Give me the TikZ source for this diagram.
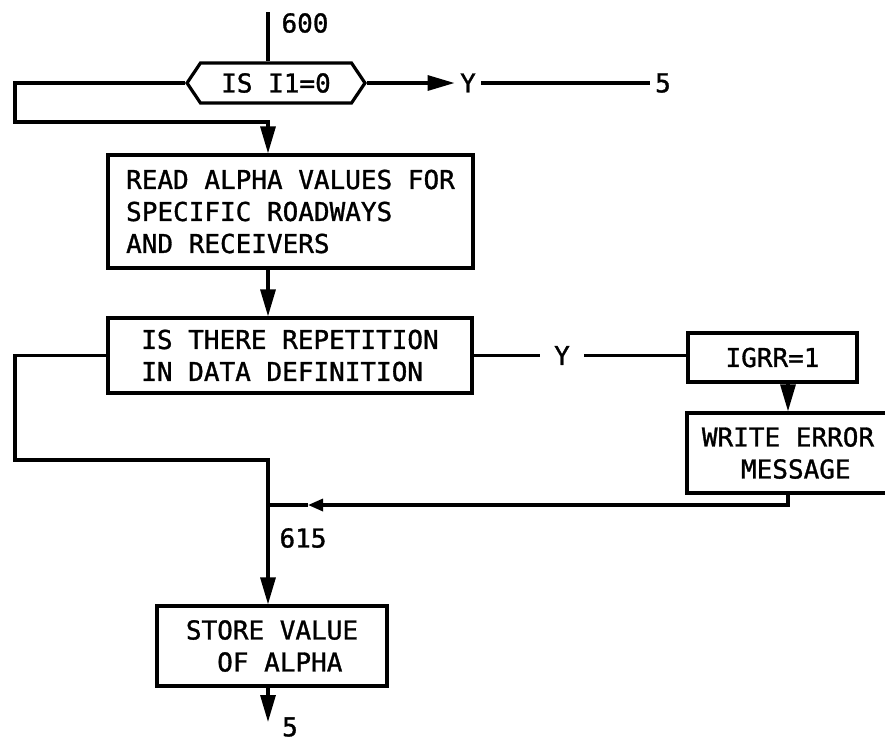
\documentclass[tikz,border=0pt]{standalone}
\usepackage{fontspec}
\setmonofont{DejaVu Sans Mono}[FakeBold=1.2]
\usetikzlibrary{arrows.meta,shapes.symbols}

\begin{document}
\begin{tikzpicture}[x=1pt, y=-1pt, line width=3.2pt,
  font=\ttfamily\fontsize{26}{32}\selectfont,
  stepbox/.style={draw, inner sep=0pt, align=left},
  decision/.style={draw, signal, signal to=west and east, signal pointer angle=112, inner sep=0pt, minimum width=178pt, minimum height=40pt},
  tag/.style={inner sep=4pt},
  flow/.style={-{Triangle[length=27pt,width=15pt]}},
  backflow/.style={-{Triangle[length=15pt,width=12pt]}}]
\clip (0,0) rectangle (885,742);
% main column
\coordinate (spine) at (268,0);
\coordinate (start) at (268,12);
\node[decision] (isone) at (276,83) {IS I1=0};
\node[tag] (yes1) at (468,83) {Y};
\node[tag] (goto5) at (663,83) {5};
\node[stepbox, minimum width=365pt, minimum height=113pt] (readalpha) at (290.5,211.5) {READ ALPHA VALUES FOR\\SPECIFIC ROADWAYS\\AND RECEIVERS};
\node[stepbox, minimum width=364pt, minimum height=75pt] (repeat) at (290,355.5) {IS THERE REPETITION\\IN DATA DEFINITION};
\node[tag, inner xsep=13pt] (yes2) at (562,355.5) {Y};
\node[stepbox, minimum width=169pt, minimum height=49pt] (igrr) at (772.5,357.5) {IGRR=1};
\node[stepbox, align=center, minimum width=202pt, minimum height=80pt] (writeerr) at (788,453) {WRITE ERROR\\\hphantom{M}MESSAGE};
\node[stepbox, align=center, minimum width=230pt, minimum height=80pt] (store) at (272,646) {STORE VALUE\\\hphantom{O}OF ALPHA};
\node[tag] (exit5) at (290,727) {5};
\node[tag] at (305,23) {600};
\node[tag] at (303,538) {615};
\coordinate (lefta) at (15,122);
\coordinate (leftb) at (15,460);
\coordinate (merge) at (268,505);
\coordinate (backtip) at (308,505);
\coordinate (stop) at (268,722);
% connectors
\draw (start) -- (spine |- isone.north);
\draw[flow] (isone.east) -- (yes1.west);
\draw (yes1.east) -- (goto5.west);
\draw[flow] (isone.west) -| (lefta) -- (spine |- lefta) -- (spine |- readalpha.north);
\draw[flow] (spine |- readalpha.south) -- (spine |- repeat.north);
\draw (repeat.east) -- (yes2.west);
\draw (yes2.east) -- (igrr.west |- yes2.east);
\draw[flow] (igrr.south -| writeerr.south) -- (writeerr.north);
\draw[backflow] (writeerr.south) |- (backtip);
\draw (backtip) -- (merge);
\draw[flow] (repeat.west) -| (leftb) -- (spine |- leftb) -- (merge) -- (spine |- store.north);
\draw[flow] (spine |- store.south) -- (stop);
\end{tikzpicture}
\end{document}
